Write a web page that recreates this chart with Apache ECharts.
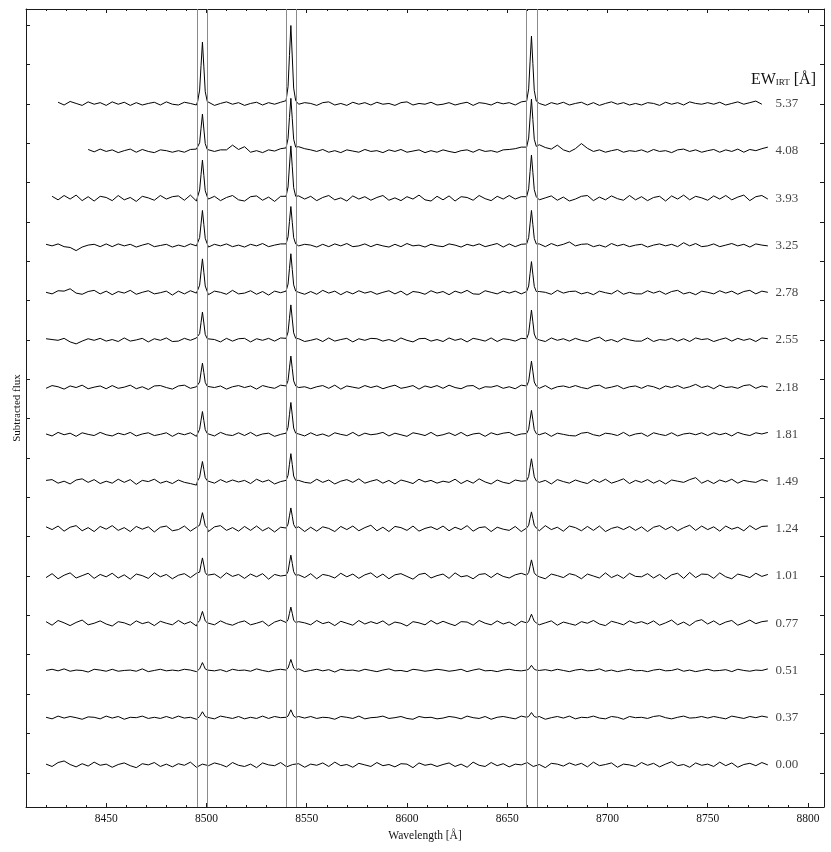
<!DOCTYPE html>
<html><head><meta charset="utf-8">
<script src="https://cdn.jsdelivr.net/npm/echarts@6/dist/echarts.min.js"></script>
<style>html,body{margin:0;padding:0;background:#fff}#c{width:831px;height:852px}</style>
</head><body><div id="c"></div>
<script>
// ---- data ----
const waveGrid = [8420,8423,8426,8429,8432,8435,8438,8441,8444,8447,8450,
8453,8456,8459,8462,8465,8468,8471,8474,8477,8480,8483,
8486,8489,8492,8495,8498,8501,8504,8507,8510,8513,8516,
8519,8522,8525,8528,8531,8534,8537,8540,8543,8546,8549,
8552,8555,8558,8561,8564,8567,8570,8573,8576,8579,8582,
8585,8588,8591,8594,8597,8600,8603,8606,8609,8612,8615,
8618,8621,8624,8627,8630,8633,8636,8639,8642,8645,8648,
8651,8654,8657,8660,8663,8666,8669,8672,8675,8678,8681,
8684,8687,8690,8693,8696,8699,8702,8705,8708,8711,8714,
8717,8720,8723,8726,8729,8732,8735,8738,8741,8744,8747,
8750,8753,8756,8759,8762,8765,8768,8771,8774,8777,8780];
const lineCenters = [8498.0, 8542.1, 8662.1];
const peakOffsets = [-2.4, -1.4, -0.7, 0, 0.7, 1.4, 2.4];
const windowLines = [8495.4, 8500.4, 8539.6, 8544.6, 8659.7, 8664.8];
const ewLabels = ['0.00','0.37','0.51','0.77','1.01','1.24','1.49','1.81','2.18','2.55','2.78','3.25','3.93','4.08','5.37'];
const offsets = [0.2,1.4,2.6,3.8,5.0,6.2,7.4,8.6,9.8,11.0,12.2,13.4,14.6,15.8,17.0];
const xMajorTicks = [8450,8500,8550,8600,8650,8700,8750,8800];
const xMinorTicks = [8410,8420,8430,8440,8460,8470,8480,8490,8510,8520,8530,8540,8560,8570,8580,8590,8610,8620,8630,8640,8660,8670,8680,8690,8710,8720,8730,8740,8760,8770,8780,8790];
const yTicks = [0,1,2,3,4,5,6,7,8,9,10,11,12,13,14,15,16,17,18,19];

// residual flux (hundredths) on waveGrid, bottom spectrum first
const noise000 = [2,-4,6,10,1,-5,3,-3,7,-1,2, -6,1,5,-2,-7,3,0,6,-4,2,-5, 3,-1,7,-6,2,-2,5,1,-5,6,-1, -4,2,-7,5,0,-2,6,-5,1,3,-6, 2,-1,5,-4,7,-2,1,-6,4,0,-4, 6,-2,1,-5,3,2,-7,5,-1,2,-4, 1,5,-4,2,-6,7,-1,-4,6,-2,3, -5,2,0,6,-4,1,-7,4,2,-3,5, -1,4,-5,7,-2,1,5,-6,2,0,-4, 6,-1,4,-5,2,8,-2,1,-6,5,-1, 2,-4,7,-2,5,-6,1,4,-2,6,0];
const noise037 = [1,-3,4,-1,3,0,-4,2,1,-3,4, -1,3,-4,1,0,4,-2,1,-2,3,-2, 4,-1,1,-4,0,0,-3,4,1,-2,3, -3,1,-2,4,-2,3,0,0,0,3,-1, 3,-2,1,0,-4,3,1,-2,4,-3,0, 1,4,-2,0,3,-2,-4,3,0,1,-3, -1,3,1,-3,4,0,-2,3,-4,1,3, 0,-3,4,0,0,3,-4,0,3,-1,4, -3,1,0,4,-1,-3,3,1,-4,3,0, 1,-2,3,5,0,-3,1,4,-1,0,3, -1,3,0,-3,4,1,-2,3,0,4,1];
const noise051 = [0,3,-1,4,-2,1,0,-4,3,1,-2, 3,-2,0,1,-2,4,-3,0,3,-1,1, -1,3,1,-3,0,4,-1,2,-3,3,0, 1,-2,4,0,-3,1,3,0,0,4,-3, 0,3,-1,2,-4,3,0,1,-2,3,0, -3,1,4,-1,0,-3,3,1,-2,0,3, 1,-2,0,3,-3,1,4,-1,0,-3,1, 3,0,-1,0,0,0,2,-1,3,0,-3, 1,3,-1,0,4,-2,1,-3,0,3,-1, 0,-3,1,3,-1,0,4,-2,1,-3,0, 3,-1,0,2,-3,3,0,-2,1,0,4];
const noise077 = [4,-5,7,1,-6,2,8,-4,0,6,-2, -7,4,1,-5,6,-1,3,-6,5,0,-4, 7,-2,4,-7,0,5,-4,6,-1,-5,2, 6,-4,0,5,-7,3,8,0,0,4,1, -4,7,-1,3,-6,5,0,-5,7,-2,4, -1,6,-5,3,0,-7,4,1,-4,7,-2, 5,-1,-6,4,3,-5,7,0,-4,6,-2, 3,-6,5,0,0,-4,1,6,-5,3,-1, -5,4,0,7,-2,-6,5,1,-4,6,0, 4,-2,6,-5,1,8,-4,3,-6,5,9, -2,6,-4,3,7,-5,1,8,-1,4,6];
const noise101 = [-4,6,-7,2,8,-5,1,7,-6,4,-2, 7,-5,3,-8,5,1,-6,8,-2,4,-7, 2,6,-4,7,0,1,5,-5,8,-1,4, -6,5,-2,6,-8,4,0,0,0,3,-4, 6,-7,4,1,-5,7,-2,5,-6,3,8, -4,5,-7,3,6,-1,-8,4,7,-5,1, 5,-6,8,-2,1,-7,4,6,-4,7,-1, -5,3,7,0,0,-2,-7,5,1,-4,6, 2,-7,5,0,-5,8,-4,3,-6,7,-1, -2,6,-5,4,-8,3,7,-6,9,-4,5, 4,-6,8,-2,-7,5,1,-4,7,-1,4];
const noise124 = [5,-2,7,-6,4,8,-5,3,-7,6,-1, 8,-4,3,-7,6,-1,5,-8,4,7,-5, -2,7,-6,4,0,-7,5,8,-4,3,-6, 6,-4,7,-5,3,-8,4,0,0,5,-7, 4,-6,5,1,-7,6,-2,7,-5,3,9, -5,4,-7,6,3,-4,7,-6,1,5,-2, 7,-5,4,-2,8,-6,3,5,-7,4,-1, -4,6,-7,0,0,-5,8,-2,4,-6,7, 3,-5,6,-4,7,-7,1,5,-2,6,-4, 5,-7,4,8,-2,6,-5,3,9,-4,7, -2,5,-6,7,-1,4,-5,8,-2,6,7];
const noise149 = [3,5,-4,1,-6,4,7,-2,5,-5,1, -4,6,-2,5,-7,3,0,6,-4,1,-5, 4,-2,-5,-9,0,2,-4,5,-2,4,-1, 3,-5,6,-1,4,-6,0,0,0,3,-2, -4,6,-2,4,-6,1,5,-2,7,-4,1, 5,-4,3,-6,4,0,-5,6,-1,3,-4, 1,-2,6,-5,3,-4,7,-1,-6,4,-2, -5,4,1,0,0,-2,3,-6,5,0,-4, 4,-1,-5,5,-2,6,-4,1,7,-5,3, -2,5,-4,3,-6,4,1,-2,5,10,-4, 3,-5,4,-1,6,-4,3,0,-2,5,1];
const noise181 = [1,-4,5,-1,3,-5,4,0,-3,5,-1, -4,3,-1,5,-4,1,4,-3,0,4,-5, 3,-1,4,-5,0,3,-4,5,-1,-3,4, -3,5,-4,1,3,-5,0,0,0,1,-4, 4,-3,1,-5,4,0,-3,5,-4,3,-1, 1,5,-4,3,-1,-5,4,1,-3,5,-4, -1,4,-3,5,-4,1,3,-5,4,-1,3, 5,-3,1,0,0,-1,4,-5,3,0,-3, -4,3,5,-1,-4,3,1,-3,5,-4,1, 3,-5,4,0,-3,4,-4,1,3,-1,4, -3,4,-1,3,-4,5,0,-3,4,1,5];
const noise218 = [-3,4,1,-5,3,-1,5,-4,0,3,-4, 4,-3,0,5,-4,1,-6,3,4,-1,-5, 3,5,-3,1,0,4,-1,3,-5,1,4, -1,3,-5,4,0,-3,5,0,0,-1,1, -4,1,4,-3,5,-5,3,0,-3,4,-1, 3,-4,1,5,-3,0,4,-5,3,-1,4, -3,5,-1,-4,3,4,-5,1,0,4,-3, 1,-4,5,0,0,-3,4,-5,1,3,-1, 4,-1,-4,3,5,-3,0,4,-4,1,3, -3,4,1,-5,3,-1,4,-3,1,7,-1, 3,-4,5,-1,1,-3,4,6,-3,3,0];
const noise255 = [3,1,-1,4,-5,-10,-3,3,-1,4,-3, 1,-4,5,-3,0,4,-5,3,-1,5,-4, -3,4,-1,5,0,3,1,-5,4,-3,3, 4,-5,3,-1,4,-3,5,0,0,3,-4, -1,3,-4,5,-3,1,4,-5,3,-1,4, 3,-3,1,-4,5,-1,-5,3,4,-3,1, -4,5,-1,3,-5,4,1,-3,5,-4,3, 1,-3,4,0,0,0,-4,5,-1,3,-3, 4,-1,-4,3,7,-3,1,-5,4,0,-3, -3,5,-4,1,-1,4,-3,3,-4,5,1, 3,-4,1,5,-3,4,-1,3,-4,5,3];
const noise278 = [1,-3,5,4,10,-1,-4,3,6,-3,4, -5,3,-1,6,-4,1,5,-3,0,4,-6, 4,-3,5,-1,0,-5,4,1,-4,6,-3, -1,5,-4,3,-6,4,0,0,0,1,-4, 3,-4,6,-1,4,-5,3,-3,5,-1,3, -4,1,5,-3,4,-6,3,1,-4,5,-1, 3,-5,4,-1,6,-3,-4,5,1,-3,4, -1,4,-3,0,0,3,1,-4,6,-1,3, 4,-3,1,-5,4,0,-3,6,-4,1,-3, -3,5,-1,4,-4,3,6,-3,1,-5,4, 1,-3,5,-1,4,-4,3,6,-3,4,1];
const noise325 = [3,-1,4,-3,-5,-13,-4,1,3,-3,4, -3,4,-1,3,-4,1,5,-3,0,3,-4, 1,-3,4,-1,0,-4,3,-1,4,-3,1, -4,3,-1,5,-3,1,4,0,0,-1,3, 1,-4,3,-3,4,-1,5,-3,-1,4,-3, 3,-1,-4,3,-3,5,-1,1,-4,3,-1, -3,4,1,-4,3,-1,4,-3,1,5,-4, 4,-3,3,0,0,4,-3,5,-1,3,9, -1,3,4,-3,1,-4,5,-1,3,-3,1, 3,-4,1,4,-1,3,-3,7,-1,5,-3, -1,4,-3,1,5,-1,3,-4,4,1,-1];
const noise393 = [null,5,-4,7,-2,8,-6,4,-7,5,2, -6,7,-4,2,-8,5,1,-5,7,-2,4, 6,-5,8,-7,0,-2,5,-6,2,7,-4, -7,4,6,-5,3,-8,5,0,0,6,-2, 5,-6,2,7,-4,1,-7,6,-2,4,-5, 2,7,-5,1,-6,4,-2,8,-4,-7,5, -4,6,-7,4,2,-5,7,-1,-6,5,-2, 7,-2,4,0,0,-4,1,6,-5,3,-7, -2,5,7,-6,3,-4,6,-1,-5,7,-4, 4,-6,2,5,-7,6,-2,8,-4,5,1, -5,6,-2,7,-4,3,8,-6,4,7,-2];
const noise408 = [null,null,null,null,null,null,null,4,-2,5,-1, 3,-4,1,5,-3,4,-1,-4,3,1,-3, 1,-3,4,5,0,6,-1,3,3,15,4, 11,-3,1,-4,3,0,6,0,0,11,6, 3,-1,4,-3,1,-4,3,0,-3,4,-1, 1,-4,3,-1,4,-3,0,3,-4,1,-3, 3,-1,-4,1,3,-3,4,-1,1,-3,3, 4,6,10,0,0,16,9,5,15,3,-2, 6,19,7,-1,3,-3,1,4,-3,1,-1, 3,-3,4,-1,1,-4,3,5,-1,3,-3, 1,4,-3,3,-1,5,-3,4,1,6,10];
const noise537 = [null,null,4,-3,6,1,-4,5,-1,3,-4, 5,-1,4,-4,3,-3,1,4,-3,5,-1, -3,4,1,-3,0,3,-4,1,5,-1,3, -4,1,4,-3,3,-1,4,0,0,-1,3, 1,-4,3,5,-3,1,-4,4,-1,3,-3, 4,-1,1,-4,3,5,-3,1,-1,4,-3, -1,3,-3,1,4,-4,3,1,-3,4,0, 3,-3,5,0,0,1,-4,3,-1,4,-3, 1,4,-3,3,-4,1,5,-1,3,-3,1, -3,3,1,-4,4,-1,3,-3,5,1,-1, 3,-1,4,-3,1,5,-1,3,7,-1,null];

// emission peaks (hundredths) at lineCenters + peakOffsets, for 8498, 8542, 8662
const peaks000 = null;
const peaks037 = [[1,3,9,15,9,3,1],[1,4,12,20,12,4,1],[1,3,8,13,8,3,1]];
const peaks051 = [[1,4,12,20,12,4,1],[1,6,17,28,17,6,1],[1,3,8,13,8,3,1]];
const peaks077 = [[1,7,19,30,18,6,1],[2,9,25,41,25,8,2],[1,5,14,23,14,5,1]];
const peaks101 = [[2,10,29,46,28,9,2],[2,12,33,53,32,11,2],[2,9,25,41,25,8,2]];
const peaks124 = [[2,9,25,41,25,8,2],[2,12,33,53,32,11,2],[2,9,27,43,26,9,2]];
const peaks149 = [[2,11,32,51,31,10,2],[3,16,44,71,43,14,3],[2,13,36,58,35,12,2]];
const peaks181 = [[2,13,36,58,35,12,2],[3,18,50,81,49,16,3],[2,13,38,61,37,12,2]];
const peaks218 = [[2,13,38,61,37,12,2],[3,17,49,79,47,16,3],[3,15,41,66,40,13,3]];
const peaks255 = [[3,16,44,71,43,14,3],[4,20,55,89,53,18,4],[3,17,47,76,46,15,3]];
const peaks278 = [[3,19,53,86,52,17,3],[4,22,61,99,59,20,4],[3,17,49,79,47,16,3]];
const peaks325 = [[4,20,55,89,53,18,4],[4,22,61,99,59,20,4],[4,20,55,89,53,18,4]];
const peaks393 = [[4,21,60,97,58,19,4],[5,29,82,133,80,27,5],[4,24,68,110,66,22,4]];
const peaks408 = [[4,21,58,94,56,19,4],[8,32,85,134,82,30,10],[10,33,84,132,80,30,12]];
const peaks537 = [[6,35,97,157,94,31,6],[8,44,123,199,119,40,8],[7,38,107,172,103,34,7]];

const noiseSets = [noise000,noise037,noise051,noise077,noise101,noise124,noise149,noise181,noise218,noise255,noise278,noise325,noise393,noise408,noise537];
const peakSets = [peaks000,peaks037,peaks051,peaks077,peaks101,peaks124,peaks149,peaks181,peaks218,peaks255,peaks278,peaks325,peaks393,peaks408,peaks537];

// ---- build ----
const FONT = '"Liberation Serif", "DejaVu Serif", serif';
function buildSpectrum(i) {
  const pts = [];
  const nz = noiseSets[i];
  for (let k = 0; k < waveGrid.length; k++) {
    const v = nz[k];
    if (v === null || v === undefined) continue;
    const w = waveGrid[k];
    if (peakSets[i] && lineCenters.some(c => Math.abs(w - c) < 2.6)) continue;
    pts.push([w, offsets[i] + v / 100]);
  }
  if (peakSets[i]) {
    peakSets[i].forEach((arr, j) => arr.forEach((h, m) => {
      pts.push([lineCenters[j] + peakOffsets[m], offsets[i] + h / 100]);
    }));
  }
  pts.sort((a, b) => a[0] - b[0]);
  return pts;
}

const XMIN = 8410, XMAX = 8808, YMIN = -0.87, YMAX = 19.41;
const axisColor = '#1a1a1a';
function xAxisDef(pos, ticks, len, showLine, showLabel) {
  return {
    type: 'value', min: XMIN, max: XMAX, position: pos,
    axisLine: { show: showLine, onZero: false, lineStyle: { color: axisColor, width: 1 } },
    axisTick: { show: true, inside: true, length: len, customValues: ticks, lineStyle: { color: axisColor, width: 1 } },
    axisLabel: showLabel ? { show: true, customValues: ticks, formatter: v => String(v), color: '#111', fontFamily: FONT, fontSize: 11.5, margin: 6 } : { show: false },
    splitLine: { show: false },
    name: (pos === 'bottom' && showLabel) ? 'Wavelength [Å]' : '',
    nameLocation: 'middle', nameGap: 22,
    nameTextStyle: { color: '#111', fontFamily: FONT, fontSize: 11.5 }
  };
}
function yAxisDef(pos, withName) {
  return {
    type: 'value', min: YMIN, max: YMAX, position: pos,
    axisLine: { show: true, onZero: false, lineStyle: { color: axisColor, width: 1 } },
    axisTick: { show: true, inside: true, length: 4, customValues: yTicks, lineStyle: { color: axisColor, width: 1 } },
    axisLabel: { show: false },
    splitLine: { show: false },
    name: withName ? 'Subtracted flux' : '',
    nameLocation: 'middle', nameGap: 3, nameRotate: 90,
    nameTextStyle: { color: '#111', fontFamily: FONT, fontSize: 11 }
  };
}

const series = [];
series.push({
  type: 'line', data: [], z: 1, silent: true,
  markLine: {
    silent: true, symbol: 'none', animation: false,
    label: { show: false },
    lineStyle: { color: '#8a8a8a', width: 1, type: 'solid' },
    data: windowLines.map(v => ({ xAxis: v }))
  }
});
for (let i = 0; i < offsets.length; i++) {
  series.push({
    type: 'line', data: buildSpectrum(i), showSymbol: false, z: 3,
    lineStyle: { color: '#000', width: 1 }, silent: true, connectNulls: false
  });
}
series.push({
  type: 'scatter', z: 4, silent: true, symbolSize: 1,
  itemStyle: { color: 'rgba(0,0,0,0)' },
  data: offsets.map(o => [8783.5, o]),
  label: {
    show: true, position: 'right', distance: 0,
    formatter: p => ewLabels[p.dataIndex],
    color: '#111', fontFamily: FONT, fontSize: 13
  }
});

const chart = echarts.init(document.getElementById('c'), null, { renderer: 'canvas' });
chart.setOption({
  animation: false,
  backgroundColor: '#fff',
  grid: { left: 26, right: 7, top: 9, bottom: 45, containLabel: false },
  xAxis: [
    xAxisDef('bottom', xMajorTicks, 4, true, true),
    xAxisDef('bottom', xMinorTicks, 2, false, false),
    xAxisDef('top', xMajorTicks, 4, true, false),
    xAxisDef('top', xMinorTicks, 2, false, false)
  ],
  yAxis: [yAxisDef('left', true), yAxisDef('right', false)],
  graphic: [{
    type: 'text', x: 816, y: 80,
    style: {
      text: '{a|EW}{b|IRT}{a| [Å]}', align: 'right', verticalAlign: 'middle',
      fill: '#111',
      rich: {
        a: { fontFamily: FONT, fontSize: 16, fill: '#111' },
        b: { fontFamily: FONT, fontSize: 9, fill: '#111', padding: [6, 0, 0, 0] }
      }
    }
  }],
  series: series
});
</script></body></html>
